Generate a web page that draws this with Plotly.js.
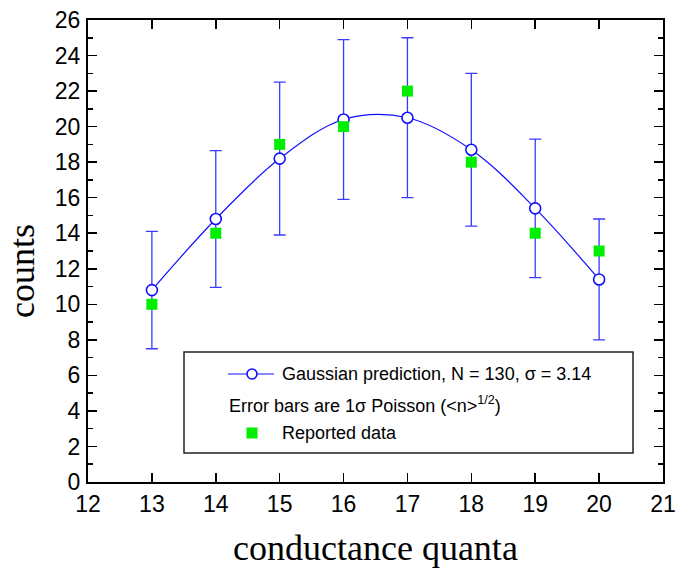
<!DOCTYPE html>
<html>
<head>
<meta charset="utf-8">
<script src="https://cdn.plot.ly/plotly-3.0.1.min.js"></script>
<style>html,body{margin:0;padding:0;background:#fff;}#chart{width:676px;height:570px;}</style>
</head>
<body>
<div id="chart"></div>
<script>
// Data
var quanta = [13, 14, 15, 16, 17, 18, 19, 20];
var gaussianPrediction = [10.8, 14.8, 18.2, 20.4, 20.5, 18.7, 15.4, 11.4];
var poissonError = [3.3, 3.85, 4.3, 4.5, 4.5, 4.3, 3.9, 3.4];
var reportedData = [10, 14, 19, 20, 22, 18, 14, 13];
var xTickValues = [12, 13, 14, 15, 16, 17, 18, 19, 20, 21];
var yTickValues = [0, 2, 4, 6, 8, 10, 12, 14, 16, 18, 20, 22, 24, 26];

var blue = '#1010ff';
var green = '#00ee00';

var traces = [
  {
    x: quanta, y: gaussianPrediction, type: 'scatter', mode: 'lines+markers',
    line: {color: blue, width: 1.2, shape: 'spline', smoothing: 1},
    marker: {symbol: 'circle', size: 11, color: '#ffffff', line: {color: blue, width: 1.6}},
    error_y: {type: 'data', array: poissonError, visible: true, color: '#3a3aff', thickness: 1.3, width: 6},
    showlegend: false, cliponaxis: false
  },
  {
    x: quanta, y: reportedData, type: 'scatter', mode: 'markers',
    marker: {symbol: 'square', size: 11, color: green},
    showlegend: false, cliponaxis: false
  }
];

var axisFont = {family: 'Liberation Sans, Arial, sans-serif', size: 23, color: '#000'};
var legFont = {family: 'Liberation Sans, Arial, sans-serif', size: 18, color: '#000'};
var layout = {
  width: 676, height: 570,
  margin: {l: 88, r: 13, t: 20, b: 88},
  paper_bgcolor: '#fff', plot_bgcolor: '#fff',
  showlegend: false,
  xaxis: {
    range: [12, 21], tickvals: xTickValues, ticktext: xTickValues.map(String),
    ticks: 'inside', ticklen: 9, tickwidth: 1.5, tickcolor: '#000',
    showline: true, linecolor: '#000', linewidth: 2, mirror: 'ticks',
    showgrid: false, zeroline: false, tickfont: axisFont, ticklabelstandoff: 0,
    ticklabeloverflow: 'allow'
  },
  yaxis: {
    range: [0, 26], tickvals: yTickValues, ticktext: yTickValues.map(String),
    ticks: 'inside', ticklen: 9, tickwidth: 1.5, tickcolor: '#000',
    minor: {dtick: 1, ticks: 'inside', ticklen: 5, tickwidth: 1.5, tickcolor: '#000', showgrid: false},
    showline: true, linecolor: '#000', linewidth: 2, mirror: 'ticks',
    showgrid: false, zeroline: false, tickfont: axisFont, ticklabelstandoff: 1,
    ticklabeloverflow: 'allow'
  },
  shapes: [
    {type: 'rect', xref: 'paper', yref: 'paper',
     x0: (184-88)/575, x1: (633-88)/575, y0: (482-453)/462, y1: (482-352)/462,
     line: {color: '#222', width: 1.5}, fillcolor: 'rgba(0,0,0,0)'},
    {type: 'line', xref: 'paper', yref: 'paper',
     x0: (228-88)/575, x1: (274-88)/575, y0: (482-374)/462, y1: (482-374)/462,
     line: {color: blue, width: 1.2}},
    {type: 'circle', xref: 'paper', yref: 'paper', xsizemode: 'pixel', ysizemode: 'pixel',
     xanchor: (252-88)/575, yanchor: (482-374)/462, x0: -5, x1: 5, y0: -5, y1: 5,
     line: {color: blue, width: 1.6}, fillcolor: '#fff'},
    {type: 'rect', xref: 'paper', yref: 'paper', xsizemode: 'pixel', ysizemode: 'pixel',
     xanchor: (252-88)/575, yanchor: (482-433)/462, x0: -5.5, x1: 5.5, y0: -5.5, y1: 5.5,
     line: {width: 0}, fillcolor: green}
  ],
  annotations: [
    {text: 'counts', xref: 'paper', yref: 'paper', x: (22-88)/575, y: (482-271)/462,
     textangle: -90, showarrow: false, xanchor: 'center', yanchor: 'middle',
     font: {family: 'Liberation Serif, Times New Roman, serif', size: 36, color: '#000'}},
    {text: 'conductance quanta', xref: 'paper', yref: 'paper', x: 0.5, y: (482-548)/462,
     showarrow: false, xanchor: 'center', yanchor: 'middle',
     font: {family: 'Liberation Serif, Times New Roman, serif', size: 36, color: '#000'}},
    {text: 'Gaussian prediction, N = 130, σ = 3.14', xref: 'paper', yref: 'paper',
     x: (280-88)/575, y: (482-374)/462, showarrow: false, xanchor: 'left', yanchor: 'middle',
     font: legFont},
    {text: 'Error bars are 1σ Poisson (&lt;n&gt;<sup>1/2</sup>)', xref: 'paper', yref: 'paper',
     x: (227-88)/575, y: (482-404)/462, showarrow: false, xanchor: 'left', yanchor: 'middle',
     font: legFont},
    {text: 'Reported data', xref: 'paper', yref: 'paper',
     x: (280-88)/575, y: (482-433)/462, showarrow: false, xanchor: 'left', yanchor: 'middle',
     font: legFont}
  ]
};

Plotly.newPlot('chart', traces, layout, {displayModeBar: false, staticPlot: true});
</script>
</body>
</html>
